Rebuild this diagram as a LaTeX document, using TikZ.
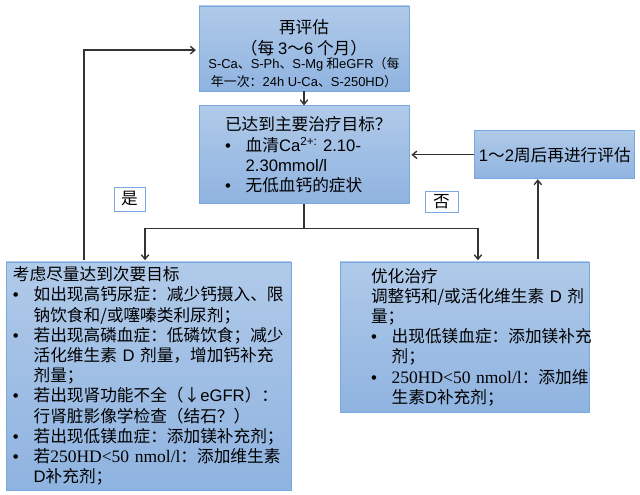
\documentclass[tikz,border=0pt]{standalone}
\usepackage{fontspec}
\setmainfont{Noto Sans CJK SC}
\newfontfamily\lafont{Liberation Sans}
\newfontfamily\sefont[Scale=1.05]{Liberation Serif}
\usepackage{tikz}
\usetikzlibrary{arrows.meta,positioning,calc}
\definecolor{boxtop}{HTML}{B0CAE9}
\definecolor{boxbot}{HTML}{8FB3E0}
\definecolor{boxline}{HTML}{79A7E0}
\definecolor{arrline}{HTML}{333333}
\newcommand{\la}[1]{{\lafont #1}}
\newcommand{\se}[1]{{\sefont #1}}
\newcommand{\itm}[1]{\makebox[15.5pt][l]{\la{•}}#1}
\newcommand{\cont}[1]{\hspace*{15.5pt}#1}
\newcommand{\smalltxt}[1]{{\fontsize{9.7}{12}\selectfont #1}}
\begin{document}
\begin{tikzpicture}[
  x=0.75pt,y=-0.75pt,
  bluebox/.style={draw=boxline,line width=0.6pt,top color=boxtop,bottom color=boxbot,inner sep=0pt,font=\fontsize{12.5}{15.15}\selectfont},
  listbox/.style={bluebox,align=left,text width=#1,minimum width=#1},
  pad/.style={execute at begin node={\leftskip=#1\rightskip=0pt plus 3em minus 3pt}},
  tag/.style={draw=boxline,line width=0.6pt,fill=white,inner sep=0pt,font=\fontsize{12.5}{15}\selectfont},
  arr/.style={-{Straight Barb[length=3.4pt,width=5.6pt]},line width=1pt,draw=arrline}
]
\useasboundingbox (0,0) rectangle (640,495);
\node[bluebox,align=center,minimum width=157.5pt,minimum height=63.75pt] (reassess) at (304,48.5) {\rule{0pt}{17.5pt}再评估\\[0.75pt]（每 \la{3}～\la{6} 个月）\\[-4.5pt]
  \smalltxt{\la{S-Ca}、\la{S-Ph}、\la{S-Mg} 和\la{eGFR}（每}\\[-2pt]\smalltxt{年一次：\la{24h U-Ca}、\la{S-250HD}）}};
\node[listbox=157.5pt,pad=19.5pt,minimum height=73.5pt,below=10.5pt of reassess] (goal) {已达到主要治疗目标？\\
  \itm{血清\la{Ca\textsuperscript{2+:}\ 2.10-}}\\
  \cont{\la{2.30mmol/l}}\\
  \itm{无低血钙的症状}};
\node[bluebox,align=center,minimum width=120pt,minimum height=36pt,right=48.75pt of goal] (recheck) {\la{1}～\la{2}周后再进行评估};
\node[listbox=213.75pt,pad=5.25pt,minimum height=171pt] (second) at (148.5,376) {考虑尽量达到次要目标\\
  \itm{如出现高钙尿症：减少钙摄入、限}\\
  \cont{钠饮食和/或噻嗪类利尿剂；}\\
  \itm{若出现高磷血症：低磷饮食；减少}\\
  \cont{活化维生素 \la{D} 剂量，增加钙补充}\\
  \cont{剂量；}\\
  \itm{若出现肾功能不全（↓\la{eGFR}）：}\\
  \cont{行肾脏影像学检查（结石？）}\\
  \itm{若出现低镁血症：添加镁补充剂；}\\
  \itm{若\se{250HD<50 nmol/l}：添加维生素}\\
  \cont{\la{D}补充剂；}};
\node[listbox=186.75pt,pad=23.25pt,minimum height=112.5pt] (optim) at (464.5,337) {优化治疗\\
  调整钙和/或活化维生素 \la{D} 剂\\
  量；\\
  \itm{出现低镁血症：添加镁补充}\\
  \cont{剂；}\\
  \itm{\se{250HD<50 nmol/l}：添加维}\\
  \cont{生素\la{D}补充剂；}};
\node[tag,minimum width=23.25pt,minimum height=18pt] (yes) at (129.5,199) {是};
\node[tag,minimum width=24.75pt,minimum height=15.75pt] (no) at (441.5,202) {否};
\coordinate (split) at ($(goal.south)+(0,-18pt)$);
\coordinate (backup) at ([xshift=-48.4pt,yshift=1pt]second.north);
\coordinate (upstart) at ([xshift=55pt,yshift=2pt]optim.north);
\draw[arr] (reassess) -- (goal);
\draw[line width=1pt,draw=arrline] (goal.south) -- (split);
\draw[arr] (split) -| ([xshift=-2.6pt,yshift=1pt]second.north);
\draw[arr] (split) -| ([xshift=10.1pt,yshift=1pt]optim.north);
\draw[arr] (backup) |- ([xshift=-2pt,yshift=-1.2pt]reassess.west);
\draw[arr] (upstart) -- (upstart |- recheck.south);
\draw[arr] (recheck) -- ([xshift=1.5pt]goal.east);
\end{tikzpicture}
\end{document}
